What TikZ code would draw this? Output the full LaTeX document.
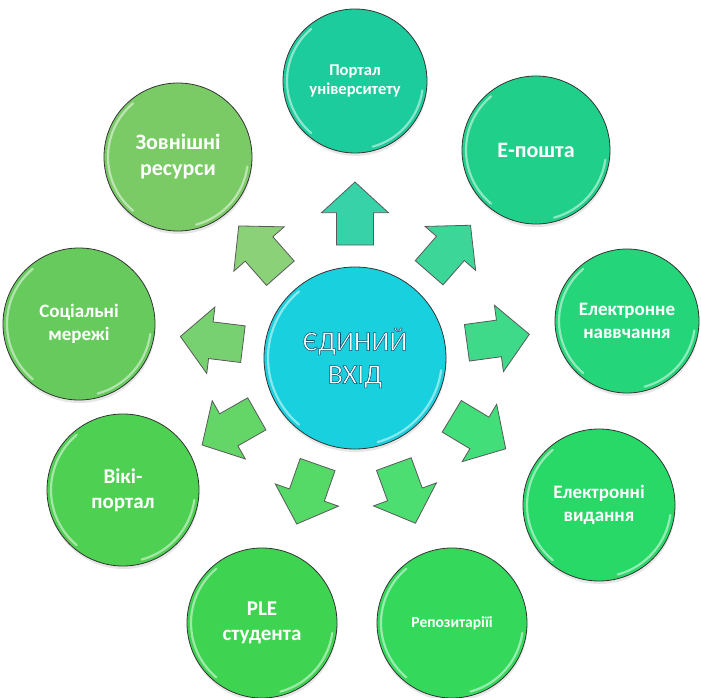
\documentclass[tikz,border=0pt]{standalone}
\usepackage{fontspec}
\setmainfont{Carlito}
\usetikzlibrary{shapes.arrows,shadows,calc}
\definecolor{cCenter}{RGB}{24,208,222}
\definecolor{cP}{RGB}{28,204,156}
\definecolor{cE}{RGB}{32,208,138}
\definecolor{cN}{RGB}{36,213,122}
\definecolor{cV}{RGB}{40,217,104}
\definecolor{cR}{RGB}{52,217,92}
\definecolor{cS}{RGB}{62,212,82}
\definecolor{cW}{RGB}{78,208,82}
\definecolor{cM}{RGB}{102,203,92}
\definecolor{cZ}{RGB}{122,203,102}
\newcommand\outl[1]{\special{pdf:literal direct 2 Tr 0.55 w 0.05 0.30 0.45 RG}#1\special{pdf:literal direct 0 Tr}}
\newcommand\mkgloss[2]{%
  \draw[gloss] ($(#1.center)+(130:#2-4)$) arc[start angle=130,end angle=230,radius=#2-4];
  \draw[gloss] ($(#1.center)+(-75:#2-4)$) arc[start angle=-75,end angle=-8,radius=#2-4];}
\tikzset{
  bubble/.style={circle, draw=black!80, line width=0.8pt, fill=#1, text=white,
    font=\bfseries\fontsize{19}{23}\selectfont, align=center, inner sep=0pt,
    drop shadow={shadow xshift=0.5pt, shadow yshift=-3pt, opacity=0.2}},
  gloss/.style={white, line width=2.2pt, opacity=0.5, line cap=round},
  blockarrow/.style={single arrow, draw=black!65, line width=0.8pt, fill=#1!88!white,
    minimum height=63pt, minimum width=67pt, inner xsep=0pt, inner ysep=18pt,
    single arrow head extend=15pt, single arrow tip angle=95},
}
\begin{document}
\begin{tikzpicture}[x=1pt,y=1pt]
\useasboundingbox (0,0) rectangle (701,697);
\node[bubble=cCenter, minimum size=182pt, font=\fontsize{28}{33}\selectfont] (C) at (355,339) {\outl{ЄДИНИЙ}\\\outl{ВХІД}};
\node[bubble=cP, minimum size=144pt, font=\bfseries\fontsize{16.5}{19}\selectfont] (P) at (355,616) {Портал\\університету};
\node[bubble=cE, minimum size=148pt, font=\bfseries\fontsize{22}{26}\selectfont] (E) at (536,547) {Е-пошта};
\node[bubble=cN, minimum size=144pt] (N) at (627,376) {Електронне\\наввчання};
\node[bubble=cV, minimum size=152pt] (V) at (599,192) {Електронні\\видання};
\node[bubble=cR, minimum size=150pt, font=\bfseries\fontsize{15.5}{19}\selectfont] (R) at (452,74) {Репозитаріїі};
\node[bubble=cS, minimum size=150pt, font=\bfseries\fontsize{21}{25}\selectfont] (S) at (262,74) {PLE\\студента};
\node[bubble=cW, minimum size=152pt, font=\bfseries\fontsize{21}{25}\selectfont] (W) at (123,207) {Вікі-\\портал};
\node[bubble=cM, minimum size=152pt] (M) at (79,373) {Соціальні\\мережі};
\node[bubble=cZ, minimum size=148pt, font=\bfseries\fontsize{22}{26}\selectfont] (Z) at (178,540) {Зовнішні\\ресурси};
\mkgloss{C}{91}
\mkgloss{P}{72}
\mkgloss{E}{74}
\mkgloss{N}{72}
\mkgloss{V}{76}
\mkgloss{R}{75}
\mkgloss{S}{75}
\mkgloss{W}{76}
\mkgloss{M}{76}
\mkgloss{Z}{74}
\foreach \t/\c/\a in {P/cP/aP, E/cE/aE, N/cN/aN, V/cV/aV, R/cR/aR, S/cS/aS, W/cW/aW, M/cM/aM, Z/cZ/aZ}{
  \path let \p1=($(\t)-(C)$), \n1={atan2(\y1,\x1)} in
    node[blockarrow=\c, rotate=\n1] (\a) at ($(C)!136pt!(\t)$) {};
}
\end{tikzpicture}
\end{document}
